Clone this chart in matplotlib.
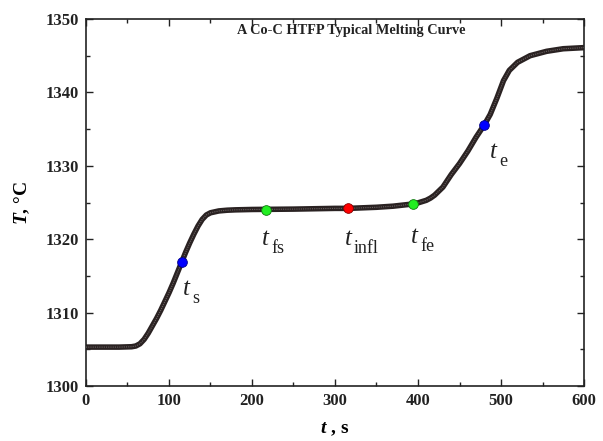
import matplotlib
matplotlib.use("Agg")
import matplotlib.pyplot as plt
from matplotlib.ticker import MultipleLocator

plt.rcParams['font.family'] = ['Liberation Serif', 'DejaVu Serif']
plt.rcParams['mathtext.fontset'] = 'custom'
plt.rcParams['mathtext.rm'] = 'Liberation Serif'
plt.rcParams['mathtext.it'] = 'Liberation Serif:italic'
plt.rcParams['mathtext.bf'] = 'Liberation Serif:bold'
plt.rcParams['mathtext.bfit'] = 'Liberation Serif:italic:bold'

# Melting curve (time in s, temperature in deg C)
time_s = [0, 20, 40, 55, 60, 65, 70, 75, 80, 85, 90, 95, 100, 105, 110, 115,
          120, 125, 130, 135, 140, 145, 150, 160, 170, 180, 200, 250, 300, 316,
          350, 370, 394, 400, 410, 415, 420, 430, 440, 450, 460, 470, 480, 487,
          495, 503, 510, 520, 535, 555, 575, 600]
temp_c = [1305.3, 1305.3, 1305.3, 1305.35, 1305.45, 1305.75, 1306.35, 1307.2,
          1308.2, 1309.2, 1310.3, 1311.5, 1312.7, 1314.0, 1315.4, 1316.8,
          1318.2, 1319.5, 1320.7, 1321.8, 1322.7, 1323.3, 1323.6, 1323.85,
          1323.95, 1324.0, 1324.05, 1324.1, 1324.2, 1324.2,
          1324.35, 1324.5, 1324.8, 1324.95, 1325.3, 1325.6, 1326.0, 1327.1,
          1328.8, 1330.3, 1332.0, 1333.9, 1335.6, 1337.0,
          1339.2, 1341.6, 1343.0, 1344.1, 1345.0, 1345.6, 1345.95, 1346.1]

# Characteristic points
pt_names = ['s', 'fs', 'infl', 'fe', 'e']
pt_time = [115.3, 216.5, 316.0, 394.0, 479.5]
pt_temp = [1316.9, 1324.0, 1324.2, 1324.8, 1335.5]
pt_color = ['#0000ff', '#22ee22', '#ff0000', '#22ee22', '#0000ff']
pt_edge = ['#000088', '#117711', '#880000', '#117711', '#000088']
lbl_time = [116.9, 212.0, 312.0, 392.0, 486.7]
lbl_temp = [1312.4, 1319.2, 1319.2, 1319.5, 1331.1]

x_ticks = [0, 100, 200, 300, 400, 500, 600]
y_ticks = [1300, 1310, 1320, 1330, 1340, 1350]

fig = plt.figure(figsize=(6.03, 4.41), dpi=100)
ax = fig.add_axes([0.1426, 0.1247, 0.8259, 0.8322])

ax.plot(time_s, temp_c, color='#2a2222', lw=4.0, solid_capstyle='butt', zorder=2)
ax.plot(time_s, temp_c, color='#a8a0a0', lw=0.8, ls=(0, (1, 1)), alpha=0.5, zorder=3)

for t, T, c, e in zip(pt_time, pt_temp, pt_color, pt_edge):
    ax.plot([t], [T], 'o', ms=7, mfc=c, mec=e, mew=0.6, zorder=5)

for name, lx, ly in zip(pt_names, lbl_time, lbl_temp):
    ax.text(lx, ly, 't', fontsize=18, style='italic',
            ha='left', va='baseline', color='#222222')
    ax.annotate(name, xy=(lx, ly), xytext=(9, -8), textcoords='offset pixels',
                fontsize=13, ha='left', va='baseline', color='#222222')

ax.text(320, 1348.5, 'A Co-C HTFP Typical Melting Curve', fontsize=10.3,
        fontweight='bold', ha='center', va='center', color='#222222')

ax.set_xlim(0, 600)
ax.set_ylim(1300, 1350)
ax.set_xticks(x_ticks)
ax.set_yticks(y_ticks)
ax.xaxis.set_minor_locator(MultipleLocator(50))
ax.yaxis.set_minor_locator(MultipleLocator(5))
ax.tick_params(which='both', direction='in', top=True, right=True,
               labelsize=12, width=1.0, color='#222222', labelcolor='#222222')
ax.tick_params(which='major', length=5, pad=5)
ax.tick_params(which='minor', length=3)
for lab in ax.get_xticklabels() + ax.get_yticklabels():
    lab.set_fontweight('bold')
for sp in ax.spines.values():
    sp.set_linewidth(1.2)
    sp.set_color('#222222')

ax.set_xlabel(r'$\mathbfit{t}$' + ' , s', fontsize=14, fontweight='bold', labelpad=8)
ax.set_ylabel(r'$\mathbfit{T}$' + ', °C', fontsize=14, fontweight='bold', labelpad=10)

fig.savefig('out.png', dpi=100)
